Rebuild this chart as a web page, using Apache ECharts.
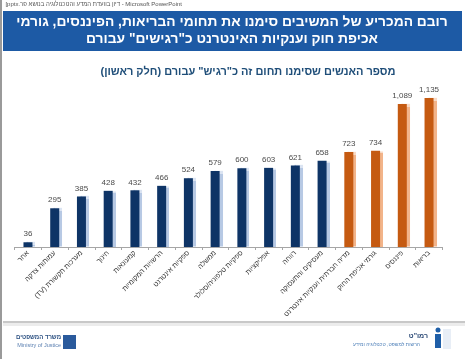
<!DOCTYPE html>
<html>
<head>
<meta charset="utf-8">
<script src="https://cdn.jsdelivr.net/npm/echarts@6/dist/echarts.min.js"></script>
<style>
html,body{margin:0;padding:0;background:#fff;}
#c{width:465px;height:359px;direction:rtl;}
</style>
</head>
<body>
<div id="c"></div>
<script>
var categories = ['אחר','עמותות צדקה','מערכות תקשורת (TV)','חינוך','קמעונאות','הרשויות המקומיות','ספקיות אינטרנט','ממשלה','ספקיות טלפוניה/סלולר','אפליקציות','רווחה','מעסיקים והתעסוקה','מדיה חברתית וענקיות אינטרנט','גורמי אכיפת החוק','פיננסים','בריאות'];
var values = [36,295,385,428,432,466,524,579,600,603,621,658,723,734,1089,1135];
var highlighted = [false,false,false,false,false,false,false,false,false,false,false,false,true,true,true,true];

var BLUE = '#0e3466', BLUE_SH = '#b7c9e4', ORANGE = '#c55a11', ORANGE_SH = '#f2b48a';
var FONT = 'Liberation Sans, DejaVu Sans, Arial, sans-serif';

var chart = echarts.init(document.getElementById('c'), null, {renderer:'canvas'});
var option = {
  animation:false,
  backgroundColor:'#ffffff',
  title:{
    text:'מספר האנשים שסימנו תחום זה כ"רגיש" עבורם (חלק ראשון)',
    left:243, top:61, textAlign:'center',
    textStyle:{color:'#1f4e79', fontSize:11, fontWeight:'bold', fontFamily:FONT}
  },
  graphic:[
    {type:'rect', shape:{x:0,y:0,width:2,height:359}, style:{fill:'#9a9a9a'}},
    {type:'text', right:283, top:1, style:{text:'\u202A[pptx.דיון בוועדת המדע והטכנולוגיה בנושא פר - Microsoft PowerPoint\u202C', fill:'#555', font:'6px '+FONT}},
    {type:'rect', shape:{x:3,y:11,width:459,height:40}, style:{fill:'#1d5aa5'}},
    {type:'text', x:232, y:15, style:{text:'רובם המכריע של המשיבים סימנו את תחומי הבריאות, הפיננסים, גורמי', fill:'#fff', font:'bold 13.8px '+FONT, textAlign:'center'}},
    {type:'text', x:232, y:32, style:{text:'אכיפת חוק וענקיות האינטרנט כ"רגישים" עבורם', fill:'#fff', font:'bold 13.8px '+FONT, textAlign:'center'}},
    {type:'rect', shape:{x:3,y:321,width:462,height:2}, style:{fill:'#c8c8c8'}},
    {type:'rect', shape:{x:3,y:323,width:462,height:3}, style:{fill:'#ececec'}},
    {type:'rect', shape:{x:63,y:335,width:13,height:14}, style:{fill:'#2a5a9c'}},
    {type:'text', x:61, y:334, style:{text:'משרד המשפטים', fill:'#2a4f80', font:'bold 6px '+FONT, textAlign:'right'}},
    {type:'text', x:61, y:342, style:{text:'Ministry of Justice', fill:'#5a7fb0', font:'5.5px '+FONT, textAlign:'right'}},
    {type:'text', x:428, y:333, style:{text:'רמו"ט', fill:'#1f3f6e', font:'bold 7px '+FONT, textAlign:'right'}},
    {type:'text', x:420, y:342, style:{text:'הרשות למשפט, טכנולוגיה ומידע', fill:'#4d7fb8', font:'5px '+FONT, textAlign:'right'}},
    {type:'circle', shape:{cx:438,cy:330,r:2.5}, style:{fill:'#1f5fa8'}},
    {type:'rect', shape:{x:435,y:334,width:6,height:14}, style:{fill:'#1f5fa8'}},
    {type:'rect', shape:{x:443,y:329,width:8,height:20}, style:{fill:'#e8eef6'}}
  ],
  grid:{left:14.6, right:22.6, top:89.5, bottom:112, containLabel:false},
  xAxis:{
    type:'category', data:categories, boundaryGap:true,
    axisLine:{lineStyle:{color:'#a6a6a6', width:1}},
    axisTick:{show:true, length:3, lineStyle:{color:'#a6a6a6'}},
    axisLabel:{rotate:45, interval:0, fontSize:7, color:'#333', fontFamily:FONT, margin:5}
  },
  yAxis:{type:'value', min:0, max:1200, show:false, splitLine:{show:false}},
  series:[{
    type:'bar', barWidth:9,
    data: values.map(function(v,i){
      return {value:v, itemStyle:{
        color: highlighted[i]?ORANGE:BLUE,
        shadowColor: highlighted[i]?ORANGE_SH:BLUE_SH,
        shadowOffsetX:3, shadowOffsetY:0, shadowBlur:1
      }};
    }),
    label:{show:true, position:'top', distance:4, fontSize:8, color:'#4a4a4a', fontFamily:FONT,
      formatter:function(p){return p.value.toLocaleString('en-US');}}
  }]
};
chart.setOption(option);
</script>
</body>
</html>
